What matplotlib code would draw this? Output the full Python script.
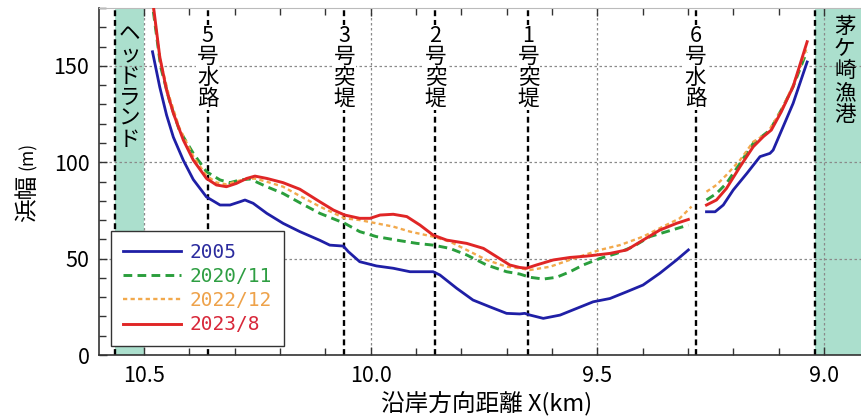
import numpy as np
import matplotlib
matplotlib.use("Agg")
import matplotlib.pyplot as plt
from matplotlib.ticker import MultipleLocator, FixedLocator

plt.rcParams['font.family'] = ['Noto Sans CJK JP', 'DejaVu Sans']

# Beach width along the coast (distance X in km, width in m); nan splits at 6号水路
x_2005 = [10.481, 10.465, 10.450, 10.435, 10.413, 10.391, 10.362, 10.332, 10.310, 10.288,
          10.277, 10.259, 10.229, 10.193, 10.156, 10.112, 10.090, 10.060, 10.049, 10.024,
          9.987, 9.950, 9.913, 9.862, 9.847, 9.810, 9.774, 9.737, 9.700, 9.671,
          9.660, 9.648, 9.619, 9.582, 9.545, 9.509, 9.472, 9.435, 9.399, 9.362,
          9.325, 9.299, np.nan,
          9.259, 9.240, 9.222, 9.200, 9.170, 9.141, 9.119, 9.112, 9.090, 9.068, 9.037]
y_2005 = [157.3, 139.0, 124.5, 113.0, 101.0, 91.0, 82.0, 77.8, 77.8, 79.5,
          80.4, 78.7, 73.5, 68.3, 64.0, 59.5, 57.0, 56.5, 53.6, 48.4,
          46.2, 45.0, 43.2, 43.2, 41.5, 34.6, 28.5, 25.0, 21.6, 21.3,
          21.6, 20.7, 19.0, 20.7, 24.2, 27.6, 29.3, 32.8, 36.3, 42.4,
          49.3, 54.5, np.nan,
          74.3, 74.3, 77.8, 85.6, 94.2, 102.9, 104.6, 106.3, 118.4, 130.5, 152.0]

x_2020 = [10.479, 10.463, 10.444, 10.422, 10.391, 10.362, 10.332, 10.310, 10.288, 10.266,
          10.229, 10.193, 10.156, 10.112, 10.057, 10.024, 9.987, 9.935, 9.898, 9.862,
          9.825, 9.788, 9.744, 9.700, 9.671, 9.648, 9.619, 9.590, 9.560, 9.531,
          9.494, 9.457, 9.421, 9.384, 9.347, 9.299, np.nan,
          9.259, 9.237, 9.215, 9.185, 9.156, 9.119, 9.090, 9.068, 9.038]
y_2020 = [178.0, 149.5, 132.3, 116.7, 104.6, 95.1, 90.8, 89.4, 90.8, 91.3,
          87.3, 83.8, 79.0, 73.5, 68.3, 64.0, 61.4, 59.3, 57.9, 57.0,
          55.3, 51.9, 46.7, 43.2, 42.0, 40.3, 39.4, 40.3, 43.2, 46.7,
          50.1, 52.7, 56.2, 61.4, 64.0, 67.4, np.nan,
          80.4, 83.8, 89.0, 99.4, 109.8, 116.7, 128.8, 139.2, 157.3]

x_2022 = [10.479, 10.463, 10.444, 10.422, 10.391, 10.362, 10.340, 10.318, 10.296, 10.273,
          10.255, 10.229, 10.193, 10.156, 10.112, 10.057, 10.024, 9.987, 9.950, 9.913,
          9.862, 9.825, 9.788, 9.744, 9.700, 9.671, 9.648, 9.604, 9.545, 9.494,
          9.450, 9.399, 9.355, 9.318, 9.292, np.nan,
          9.259, 9.237, 9.215, 9.185, 9.156, 9.125, 9.094, 9.068, 9.037]
y_2022 = [180.0, 152.0, 134.0, 118.0, 103.0, 93.0, 89.5, 88.5, 90.0, 91.5,
          91.5, 89.9, 87.3, 82.5, 77.0, 70.9, 70.0, 68.3, 66.6, 64.0,
          61.4, 58.8, 54.5, 49.3, 45.8, 45.0, 44.1, 45.8, 50.6, 54.5,
          57.0, 61.4, 66.6, 70.9, 77.0, np.nan,
          84.7, 88.2, 93.4, 101.1, 110.6, 115.0, 127.0, 140.0, 159.8]

x_2023 = [10.479, 10.465, 10.450, 10.435, 10.413, 10.391, 10.362, 10.340, 10.318, 10.296,
          10.273, 10.255, 10.229, 10.193, 10.156, 10.112, 10.082, 10.057, 10.024, 10.001,
          9.979, 9.950, 9.920, 9.891, 9.862, 9.832, 9.788, 9.751, 9.722, 9.693,
          9.671, 9.656, 9.634, 9.597, 9.560, 9.523, 9.472, 9.435, 9.399, 9.362,
          9.325, 9.299, np.nan,
          9.259, 9.237, 9.215, 9.185, 9.156, 9.134, 9.116, 9.094, 9.068, 9.037]
y_2023 = [181.0, 154.7, 137.4, 125.4, 111.5, 101.1, 91.6, 88.2, 87.3, 89.0,
          91.6, 92.8, 91.6, 89.4, 86.0, 79.5, 75.2, 72.6, 70.9, 70.9,
          72.6, 73.0, 71.8, 67.4, 62.2, 59.6, 57.9, 55.3, 51.0, 46.7,
          45.4, 45.0, 46.7, 49.3, 50.6, 51.3, 52.7, 54.5, 59.6, 64.8,
          68.3, 70.3, np.nan,
          77.8, 80.4, 86.4, 97.7, 108.0, 113.2, 116.7, 126.2, 139.2, 162.5]

series_labels = ['2005', '2020/11', '2022/12', '2023/8']

# Coastal structures (X in km) and their names
struct_x = [10.359, 10.058, 9.857, 9.652, 9.283]
struct_names = ['5号水路', '3号突堤', '2号突堤', '1号突堤', '6号水路']
headland_x = [10.563, 10.500]
port_x = 9.020

x_ticks = [10.5, 10.0, 9.5, 9.0]
x_ticklabels = ['10.5', '10.0', '9.5', '9.0']
y_ticks = [0, 50, 100, 150]

band_color = '#abdfcd'
colors = ['#1f1fa6', '#2a9e3c', '#f2a94c', '#e02626']

fig = plt.figure(figsize=(8.62, 4.18), dpi=100)
ax = fig.add_axes([99 / 862, 63 / 418, 763 / 862, 347 / 418])
ax.set_xlim(10.599, 8.916)
ax.set_ylim(0, 180)

# shaded areas: headland and 茅ケ崎漁港
ax.axvspan(headland_x[0], headland_x[1], color=band_color, lw=0, zorder=0)
ax.axvspan(port_x, 8.90, color=band_color, lw=0, zorder=0)

ax.xaxis.set_major_locator(FixedLocator(x_ticks))
ax.set_xticklabels(x_ticklabels)
ax.xaxis.set_minor_locator(MultipleLocator(0.1))
ax.yaxis.set_major_locator(FixedLocator(y_ticks))
ax.yaxis.set_minor_locator(MultipleLocator(10))
ax.grid(True, which='major', color='#8a8a8a', linestyle=(0, (2, 2)), lw=0.9, zorder=1)
ax.tick_params(which='both', direction='in', top=True, right=False,
               labelsize=15.5, pad=7, color='#333333')
ax.tick_params(which='major', length=6, width=1)
ax.tick_params(which='minor', length=5, width=1)
for s in ['left', 'bottom']:
    ax.spines[s].set_color('#333333')
    ax.spines[s].set_linewidth(1.2)
ax.spines['top'].set_color('#bbbbbb')
ax.spines['right'].set_visible(False)

# structure lines
dash = (0, (2.5, 1.6))
for xv in struct_x + [headland_x[0], port_x]:
    ax.axvline(xv, color='black', lw=1.7, linestyle=dash, zorder=2)

# beach width series
ax.plot(x_2005, y_2005, color=colors[0], lw=2.0, label=series_labels[0], zorder=4)
ax.plot(x_2020, y_2020, color=colors[1], lw=2.1, linestyle=(0, (3, 1.8)),
        label=series_labels[1], zorder=4)
ax.plot(x_2022, y_2022, color=colors[2], lw=1.7, linestyle=(0, (1.8, 1.4)),
        label=series_labels[2], zorder=4)
ax.plot(x_2023, y_2023, color=colors[3], lw=2.1, label=series_labels[3], zorder=5)

# vertical stacked labels
for xv, name in zip(struct_x, struct_names):
    ax.text(xv, 171, name[0] + '\n' + '\n'.join(name[1:]), ha='center', va='top',
            fontsize=15.5, linespacing=0.93, zorder=3,
            bbox=dict(facecolor='white', edgecolor='none', pad=0.5))
ax.text(sum(headland_x) / 2, 172, '\n'.join('ヘッドランド'), ha='center', va='top',
        fontsize=15.5, linespacing=0.95, zorder=3)
ax.text(8.954, 176, '\n'.join('茅ケ崎漁港'), ha='center', va='top',
        fontsize=15.5, linespacing=1.0, zorder=3)

leg = ax.legend(loc='lower left', bbox_to_anchor=(0.0157, 0.026), borderaxespad=0,
                prop={'family': 'DejaVu Sans Mono', 'size': 14},
                handlelength=3.0, handletextpad=0.45, labelspacing=0.27,
                borderpad=0.6, fancybox=False, framealpha=1, edgecolor='#333333')
leg.get_frame().set_linewidth(1.0)
for txt, c in zip(leg.get_texts(), ['#2b2b9e', '#2e9e42', '#eea24a', '#d8283a']):
    txt.set_color(c)
leg.set_zorder(6)

fig.text(28 / 862, (418 - 198) / 418, '浜幅', rotation=90, ha='center', va='center', fontsize=17)
fig.text(28 / 862, (418 - 156) / 418, '(m)', rotation=90, ha='center', va='center', fontsize=12.5)
fig.text(487 / 862, (418 - 403) / 418, '沿岸方向距離 X(km)', ha='center', va='center', fontsize=17)

fig.savefig('out.png', dpi=100, facecolor='white')
